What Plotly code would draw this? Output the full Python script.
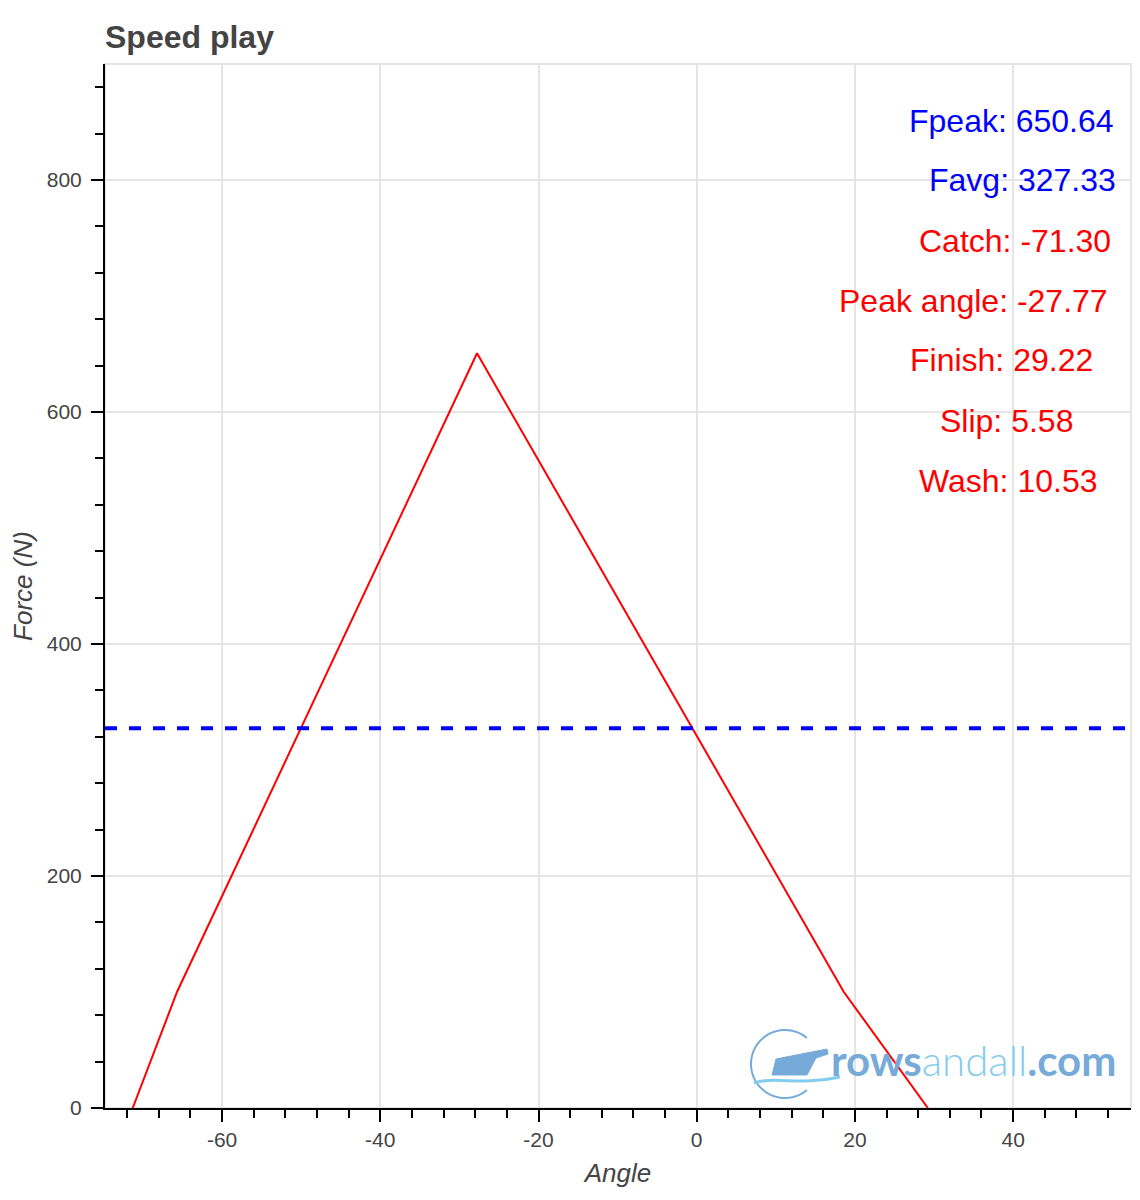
import math
import plotly.graph_objects as go

# ---- data ----
angle = [-71.30, -65.7, -27.77, 18.6, 29.22]
force = [0, 100, 650.64, 100, 0]
favg = 327.33
avg_x = [-74.8, 54.9]
avg_y = [favg, favg]

x_ticks = [-60, -40, -20, 0, 20, 40]
x_ticktext = ["-60", "-40", "-20", "0", "20", "40"]
y_ticks = [0, 200, 400, 600, 800]
y_ticktext = ["0", "200", "400", "600", "800"]

stat_labels = ["Fpeak: 650.64", "Favg: 327.33", "Catch: -71.30",
               "Peak angle: -27.77", "Finish: 29.22", "Slip: 5.58", "Wash: 10.53"]
stat_colors = ["blue", "blue", "red", "red", "red", "red", "red"]
# right edges / vertical centers in page pixels
stat_right_px = [1116, 1118, 1113, 1110, 1095, 1075, 1099]
stat_y_px = [120, 179, 240, 300, 359, 420, 480]

OFF = 8  # body margin of the html page
W, H = 1140 - OFF, 1200 - OFF
# plot area in page pixels
PL, PR, PT, PB = 105, 1131, 64, 1108
PW, PH = PR - PL, PB - PT
ML, MT = PL - OFF, PT - OFF
MR = (OFF + W) - PR
MB = (OFF + H) - PB


def px(x):
    return (x - PL) / PW


def py(y):
    return 1 - (y - PT) / PH


fig = go.Figure()
fig.add_trace(go.Scatter(x=angle, y=force, mode="lines",
                         line=dict(color="red", width=2), showlegend=False))
fig.add_trace(go.Scatter(x=avg_x, y=avg_y, mode="lines",
                         line=dict(color="blue", width=4, dash="12px,12px"),
                         showlegend=False))

annotations = []
for t, c, xr, yc in zip(stat_labels, stat_colors, stat_right_px, stat_y_px):
    annotations.append(dict(text=t, xref="paper", yref="paper", x=px(xr), y=py(yc + 1),
                            xanchor="right", yanchor="middle", showarrow=False,
                            font=dict(family="Liberation Sans, Arial", size=32, color=c)))

# watermark text
annotations.append(dict(
    text='<b>rows</b><span style="font-weight:300;color:#84ccef">andall</span><b>.com</b>',
    xref="paper", yref="paper", x=px(829), y=py(1060), xanchor="left", yanchor="middle",
    showarrow=False, font=dict(family="Lato, Noto Sans", size=42, color="#76abd9")))

shapes = []
# plot outline
shapes.append(dict(type="rect", xref="paper", yref="paper", x0=0, x1=1, y0=0, y1=1,
                   line=dict(color="#e5e5e5", width=2), layer="below"))
# watermark circle arc (open on right)
cx, cy, r = 785, 1064, 34
pts = []
for i in range(0, 61):
    a = math.radians(50 + i * 260 / 60)
    pts.append((cx + r * math.cos(a), cy - r * math.sin(a)))
path = "M " + " L ".join(f"{px(x):.5f},{py(y):.5f}" for x, y in pts)
shapes.append(dict(type="path", xref="paper", yref="paper", path=path,
                   line=dict(color="#76abd9", width=2)))
# blade
blade = [(776, 1059), (827, 1049), (828, 1054), (816, 1058), (807, 1075), (772, 1075)]
bpath = "M " + " L ".join(f"{px(x):.5f},{py(y):.5f}" for x, y in blade) + " Z"
shapes.append(dict(type="path", xref="paper", yref="paper", path=bpath,
                   fillcolor="#76abd9", line=dict(color="#76abd9", width=1)))
# wave
wave = (f"M {px(754):.5f},{py(1083):.5f} "
        f"C {px(775):.5f},{py(1076):.5f} {px(800):.5f},{py(1086):.5f} {px(840):.5f},{py(1077):.5f}")
shapes.append(dict(type="path", xref="paper", yref="paper", path=wave,
                   line=dict(color="#84ccef", width=3)))

axis_common = dict(
    showline=True, linecolor="black", linewidth=2,
    ticks="outside", ticklen=12, tickwidth=2, tickcolor="black",
    showgrid=True, gridcolor="#e5e5e5", gridwidth=2, zeroline=False,
    tickfont=dict(family="Liberation Sans, Arial", size=21, color="#444"),
)

fig.update_layout(
    width=W, height=H,
    margin=dict(l=ML, r=MR, t=MT, b=MB, autoexpand=False),
    paper_bgcolor="white", plot_bgcolor="white",
    title=dict(text="<b>Speed play</b>", x=0, xref="paper", xanchor="left",
               y=1 - (37 - OFF) / H, yref="container", yanchor="middle",
               font=dict(family="Liberation Sans, Arial", size=32, color="#444")),
    xaxis=dict(range=[-74.8, 54.9], tickmode="array", tickvals=x_ticks, ticktext=x_ticktext,
               minor=dict(dtick=4, tick0=0, ticks="outside", ticklen=8, tickwidth=2,
                          tickcolor="black", showgrid=False),
               title=dict(text="<i>Angle</i>", standoff=14,
                          font=dict(family="Liberation Sans, Arial", size=26, color="#444")),
               **axis_common),
    yaxis=dict(range=[0, 900], tickmode="array", tickvals=y_ticks, ticktext=y_ticktext,
               ticklabelstandoff=5,
               minor=dict(dtick=40, tick0=0, ticks="outside", ticklen=8, tickwidth=2,
                          tickcolor="black", showgrid=False),
               title=dict(text="<i>Force (N)</i>", standoff=8,
                          font=dict(family="Liberation Sans, Arial", size=26, color="#444")),
               **axis_common),
    annotations=annotations,
    shapes=shapes,
)

fig.write_html("out.html")
